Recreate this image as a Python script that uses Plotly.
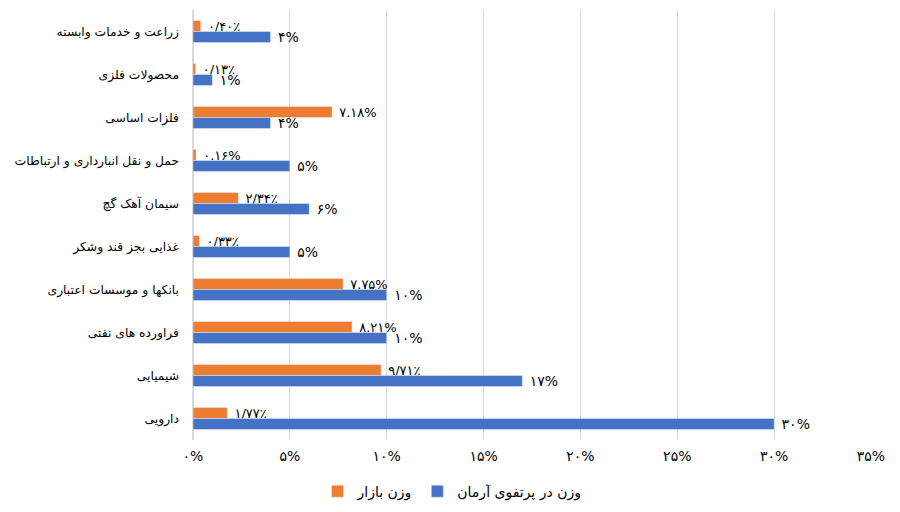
import plotly.graph_objects as go

categories = ["زراعت و خدمات وابسته", "محصولات فلزی", "فلزات اساسی",
              "حمل و نقل انبارداری و ارتباطات", "سیمان آهک گچ", "غذایی بجز قند وشکر",
              "بانکها و موسسات اعتباری", "فراورده های نفتی", "شیمیایی", "دارویی"]
market = [0.40, 0.13, 7.18, 0.16, 2.34, 0.33, 7.75, 8.21, 9.71, 1.77]
market_labels = ["۰/۴۰٪", "۰/۱۳٪", "۷.۱۸%", "۰.۱۶%", "۲/۳۴٪", "۰/۳۳٪", "۷.۷۵%", "۸.۲۱%", "۹/۷۱٪", "۱/۷۷٪"]
portfolio = [4, 1, 4, 5, 6, 5, 10, 10, 17, 30]
portfolio_labels = ["۴%", "۱%", "۴%", "۵%", "۶%", "۵%", "۱۰%", "۱۰%", "۱۷%", "۳۰%"]
tick_vals = [0, 5, 10, 15, 20, 25, 30, 35]
tick_text = ["۰%", "۵%", "۱۰%", "۱۵%", "۲۰%", "۲۵%", "۳۰%", "۳۵%"]

FONT = "DejaVu Sans, Noto Sans, sans-serif"

fig = go.Figure()
fig.add_trace(go.Bar(
    y=categories, x=market, orientation="h", name="وزن بازار",
    marker_color="#ED7D31", text=[" " + t for t in market_labels], textposition="outside",
    constraintext="none",
    textfont=dict(size=13, color="#000000", family=FONT), cliponaxis=False,
))
fig.add_trace(go.Bar(
    y=categories, x=portfolio, orientation="h", name="وزن در پرتفوی آرمان",
    marker_color="#4472C4", text=[" " + t for t in portfolio_labels], textposition="outside",
    constraintext="none",
    textfont=dict(size=14, color="#000000", family=FONT), cliponaxis=False,
))

fig.update_layout(
    width=900, height=512,
    barmode="group", bargap=0.49, bargroupgap=0,
    plot_bgcolor="white", paper_bgcolor="white",
    margin=dict(l=185, r=37, t=2, b=80),
    font=dict(family=FONT, size=13, color="#000000"),
    showlegend=True,
    legend=dict(orientation="h", x=0.382, xanchor="center", y=-0.12, yanchor="middle",
                font=dict(size=14, color="#000000")),
    uniformtext=dict(mode=False),
)
fig.update_xaxes(range=[0, 35], tickvals=tick_vals, ticktext=tick_text,
                 showgrid=True, gridcolor="#D9D9D9", gridwidth=1,
                 zeroline=True, zerolinecolor="#D9D9D9", showline=False,
                 automargin=False, ticklabelstandoff=6,
                 tickfont=dict(size=14, color="#000000"), ticks="")
fig.update_yaxes(autorange="reversed", showgrid=False, showline=False, ticks="",
                 automargin=False, ticklabelstandoff=13,
                 tickfont=dict(size=12.3, color="#000000"))

fig.write_html("out.html")
